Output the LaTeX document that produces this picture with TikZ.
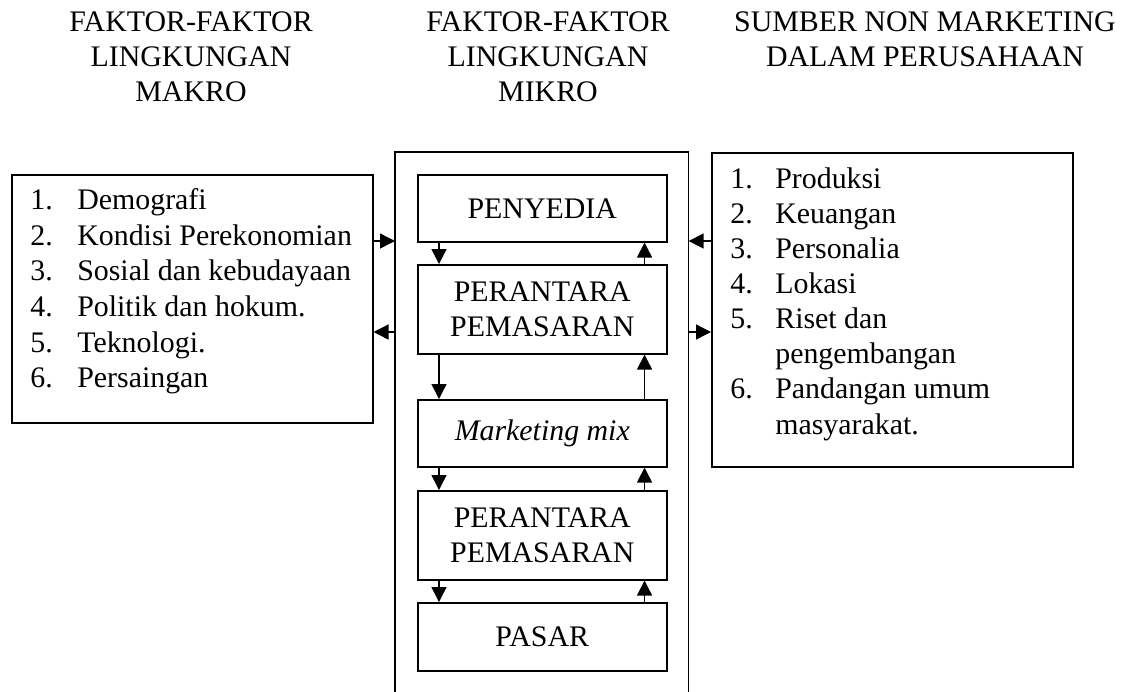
\documentclass[tikz,border=0pt]{standalone}
\usepackage{fontspec}
\setmainfont{Liberation Serif}
\usetikzlibrary{arrows.meta}

\newcommand{\nomorA}[1]{\makebox[0.94cm][l]{#1}}
\newcommand{\nomorB}[1]{\makebox[0.9cm][l]{#1}}

\tikzset{
  every node/.style={font=\fontsize{17}{20}\selectfont},
  box/.style={draw, line width=0.9pt, inner sep=0pt, anchor=north west, align=center},
  inbox/.style={box, minimum width=4.98cm},
  listtxt/.style={inner sep=0pt, anchor=north west, align=left},
  judul/.style={inner sep=0pt, anchor=north, align=center},
  flow/.style={line width=0.8pt, -{Triangle[length=0.3cm,width=0.3cm]}}
}

\begin{document}
\begin{tikzpicture}[x=0.02cm, y=-0.02cm]
        \useasboundingbox (0,0) rectangle (1130,691);

        % Titles of the three columns
        \node[judul] (tmakro) at (191,11) {FAKTOR-FAKTOR\\LINGKUNGAN\\MAKRO};
        \node[judul] (tmikro) at (548,11) {FAKTOR-FAKTOR\\LINGKUNGAN\\MIKRO};
        \node[judul] (tnonmkt) at (925,11) {SUMBER NON MARKETING\\DALAM PERUSAHAAN};

        % Left box: macro environment
        \node[box, minimum width=7.22cm, minimum height=4.96cm] (makro) at (11,174) {};
        \node[listtxt, font=\fontsize{17}{20.3}\selectfont] (makrolist) at (30,188) {\nomorA{1.}Demografi\\
            \nomorA{2.}Kondisi Perekonomian\\
            \nomorA{3.}Sosial dan kebudayaan\\
            \nomorA{4.}Politik dan hokum.\\
            \nomorA{5.}Teknologi.\\
            \nomorA{6.}Persaingan};

        % Right box: non marketing sources
        \node[box, minimum width=7.22cm, minimum height=6.28cm] (nonmkt) at (711,152) {};
        \node[listtxt] (nonmktlist) at (730,167) {\nomorB{1.}Produksi\\
            \nomorB{2.}Keuangan\\
            \nomorB{3.}Personalia\\
            \nomorB{4.}Lokasi\\
            \nomorB{5.}Riset dan\\
            \hspace*{0.9cm}pengembangan\\
            \nomorB{6.}Pandangan umum\\
            \hspace*{0.9cm}masyarakat.};

        % Middle frame, open at the bottom
        \node[inner sep=0pt, anchor=north west, minimum width=5.86cm, minimum height=10.78cm] (mikro) at (395,152) {};
        \draw[line width=0.9pt] (mikro.south west) |- (mikro.north east) -- (mikro.south east);

        % Inner boxes of the micro environment
        \node[inbox, minimum height=1.34cm] (penyedia) at (417,174) {PENYEDIA};
        \node[inbox, minimum height=1.78cm] (perantaraA) at (417,264) {PERANTARA\\PEMASARAN};
        \node[inbox, minimum height=1.34cm] (mix) at (417,399) {\textit{Marketing mix}};
        \node[inbox, minimum height=1.78cm] (perantaraB) at (417,490) {PERANTARA\\PEMASARAN};
        \node[inbox, minimum height=1.36cm] (pasar) at (417,602) {PASAR};

        % Arrows down the chain and back up
        \draw[flow] ([xshift=0.44cm]penyedia.south west) -- ([xshift=0.44cm]perantaraA.north west);
        \draw[flow] ([xshift=-0.46cm]perantaraA.north east) -- ([xshift=-0.46cm]penyedia.south east);
        \draw[flow] ([xshift=0.44cm]perantaraA.south west) -- ([xshift=0.44cm]mix.north west);
        \draw[flow] ([xshift=-0.46cm]mix.north east) -- ([xshift=-0.46cm]perantaraA.south east);
        \draw[flow] ([xshift=0.44cm]mix.south west) -- ([xshift=0.44cm]perantaraB.north west);
        \draw[flow] ([xshift=-0.46cm]perantaraB.north east) -- ([xshift=-0.46cm]mix.south east);
        \draw[flow] ([xshift=0.44cm]perantaraB.south west) -- ([xshift=0.44cm]pasar.north west);
        \draw[flow] ([xshift=-0.46cm]pasar.north east) -- ([xshift=-0.46cm]perantaraB.south east);

        % Arrows between the side boxes and the middle frame
        \coordinate (atas) at (0,241);
        \coordinate (bawah) at (0,332);
        \draw[flow] (makro.east |- atas) -- (mikro.west |- atas);
        \draw[flow] (mikro.west |- bawah) -- (makro.east |- bawah);
        \draw[flow] (nonmkt.west |- atas) -- (mikro.east |- atas);
        \draw[flow] (mikro.east |- bawah) -- (nonmkt.west |- bawah);

    \end{tikzpicture}
\end{document}
